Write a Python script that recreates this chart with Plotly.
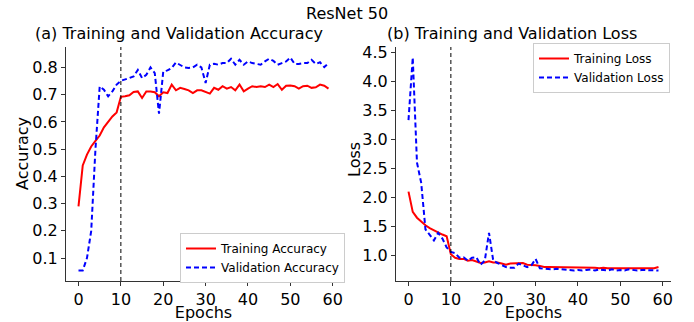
import plotly.graph_objects as go

epochs = list(range(60))
fine_tune_epoch = 10

train_acc = [0.29, 0.44, 0.48, 0.51, 0.53, 0.55, 0.58, 0.60, 0.62, 0.635,
             0.692, 0.694, 0.698, 0.710, 0.712, 0.688, 0.712, 0.712, 0.709, 0.694,
             0.709, 0.706, 0.737, 0.716, 0.725, 0.721, 0.716, 0.706, 0.716, 0.716,
             0.710, 0.704, 0.725, 0.718, 0.731, 0.722, 0.728, 0.716, 0.737, 0.712,
             0.722, 0.731, 0.728, 0.731, 0.728, 0.737, 0.728, 0.739, 0.718, 0.733,
             0.734, 0.731, 0.722, 0.731, 0.733, 0.725, 0.727, 0.737, 0.733, 0.722]
val_acc = [0.055, 0.055, 0.10, 0.20, 0.50, 0.73, 0.718, 0.694, 0.712, 0.737,
           0.751, 0.755, 0.761, 0.767, 0.791, 0.761, 0.773, 0.800, 0.779, 0.630,
           0.785, 0.789, 0.798, 0.818, 0.810, 0.800, 0.798, 0.800, 0.810, 0.800,
           0.743, 0.810, 0.813, 0.810, 0.816, 0.816, 0.832, 0.810, 0.828, 0.810,
           0.822, 0.816, 0.813, 0.810, 0.822, 0.832, 0.824, 0.810, 0.816, 0.822,
           0.836, 0.813, 0.813, 0.816, 0.816, 0.828, 0.813, 0.819, 0.801, 0.816]
train_loss = [2.10, 1.75, 1.65, 1.58, 1.52, 1.47, 1.43, 1.39, 1.36, 1.33,
              1.02, 0.96, 0.94, 0.94, 0.91, 0.92, 0.90, 0.87, 0.88, 0.90,
              0.88, 0.88, 0.86, 0.84, 0.86, 0.86, 0.86, 0.87, 0.84, 0.84,
              0.83, 0.82, 0.80, 0.80, 0.80, 0.79, 0.80, 0.79, 0.80, 0.79,
              0.79, 0.80, 0.80, 0.79, 0.79, 0.78, 0.79, 0.78, 0.78, 0.79,
              0.78, 0.78, 0.79, 0.79, 0.78, 0.79, 0.79, 0.78, 0.78, 0.80]
val_loss = [3.33, 4.41, 2.60, 2.25, 1.45, 1.36, 1.26, 1.39, 1.29, 1.14,
            1.06, 1.04, 0.96, 0.97, 0.91, 0.96, 0.97, 0.84, 0.91, 1.39,
            0.91, 0.87, 0.83, 0.80, 0.79, 0.79, 0.86, 0.83, 0.80, 0.83,
            0.94, 0.78, 0.77, 0.77, 0.76, 0.77, 0.76, 0.75, 0.74, 0.74,
            0.75, 0.74, 0.75, 0.76, 0.74, 0.76, 0.75, 0.74, 0.76, 0.74,
            0.75, 0.74, 0.76, 0.75, 0.74, 0.75, 0.75, 0.74, 0.75, 0.74]

x_ticks = [0, 10, 20, 30, 40, 50, 60]
acc_ticks = [0.1, 0.2, 0.3, 0.4, 0.5, 0.6, 0.7, 0.8]
loss_ticks = [1.0, 1.5, 2.0, 2.5, 3.0, 3.5, 4.0, 4.5]

FONT = "DejaVu Sans"
INK = "black"
RED = "#ff0000"
BLUE = "#0000ff"

W, H = 694, 322


def px(x):
    return x / W


def py(y):
    return 1 - y / H


fig = go.Figure()
fig.add_trace(go.Scatter(x=epochs, y=train_acc, mode="lines", name="Training Accuracy",
                         line=dict(color=RED, width=2), xaxis="x", yaxis="y", legend="legend"))
fig.add_trace(go.Scatter(x=epochs, y=val_acc, mode="lines", name="Validation Accuracy",
                         line=dict(color=BLUE, width=2, dash="5px,3px"), xaxis="x", yaxis="y", legend="legend"))
fig.add_trace(go.Scatter(x=epochs, y=train_loss, mode="lines", name="Training Loss",
                         line=dict(color=RED, width=2), xaxis="x2", yaxis="y2", legend="legend2"))
fig.add_trace(go.Scatter(x=epochs, y=val_loss, mode="lines", name="Validation Loss",
                         line=dict(color=BLUE, width=2, dash="5px,3px"), xaxis="x2", yaxis="y2", legend="legend2"))

for xr in ["x", "x2"]:
    fig.add_shape(type="line", xref=xr, yref=("y domain" if xr == "x" else "y2 domain"),
                  x0=fine_tune_epoch, x1=fine_tune_epoch, y0=0, y1=1,
                  line=dict(color="black", width=1, dash="4px,3px"))

ydom = [py(281), py(47)]
axis_common = dict(showline=True, linecolor="#333", linewidth=1, ticks="outside", ticklen=4,
                   tickcolor="#333", showgrid=False, zeroline=False, automargin=False,
                   tickfont=dict(family=FONT, size=16, color=INK),
                   title_font=dict(family=FONT, size=16, color=INK))

legend_common = dict(bgcolor="white", bordercolor="#cccccc", borderwidth=1, itemwidth=30,
                     font=dict(family=FONT, size=12, color=INK), tracegroupgap=0)

fig.update_layout(
    width=W, height=H, margin=dict(l=0, r=0, t=0, b=0, autoexpand=False),
    paper_bgcolor="white", plot_bgcolor="white",
    font=dict(family=FONT, size=16, color=INK),
    xaxis=dict(domain=[px(66), px(341)], range=[-2.95, 61.95], tickvals=x_ticks,
               title=dict(text="Epochs", standoff=3), anchor="y", **axis_common),
    yaxis=dict(domain=ydom, range=[0.016, 0.875], tickvals=acc_ticks, tickformat=".1f",
               anchor="x", **axis_common),
    xaxis2=dict(domain=[px(396), px(671)], range=[-2.95, 61.95], tickvals=x_ticks,
                title=dict(text="Epochs", standoff=3), anchor="y2", **axis_common),
    yaxis2=dict(domain=ydom, range=[0.56, 4.59], tickvals=loss_ticks, tickformat=".1f",
                anchor="x2", **axis_common),
    legend=dict(x=px(345), xanchor="right", y=py(258), yanchor="middle", **legend_common),
    legend2=dict(x=px(670), xanchor="right", y=py(68), yanchor="middle", **legend_common),
    annotations=[
        dict(text="ResNet 50", x=px(347), y=py(14), xref="paper", yref="paper",
             xanchor="center", yanchor="middle", showarrow=False,
             font=dict(family=FONT, size=16, color=INK)),
        dict(text="(a) Training and Validation Accuracy", x=px(33), y=py(34),
             xref="paper", yref="paper", xanchor="left", yanchor="middle", showarrow=False,
             font=dict(family=FONT, size=16, color=INK)),
        dict(text="(b) Training and Validation Loss", x=px(385), y=py(34),
             xref="paper", yref="paper", xanchor="left", yanchor="middle", showarrow=False,
             font=dict(family=FONT, size=16, color=INK)),
        dict(text="Accuracy", x=px(22), y=py(154), xref="paper", yref="paper",
             xanchor="center", yanchor="middle", textangle=-90, showarrow=False,
             font=dict(family=FONT, size=16, color=INK)),
        dict(text="Loss", x=px(354), y=py(159), xref="paper", yref="paper",
             xanchor="center", yanchor="middle", textangle=-90, showarrow=False,
             font=dict(family=FONT, size=16, color=INK)),
    ],
)

fig.write_html("out.html", config={"displayModeBar": False},
               post_script="document.body.style.margin='0px';document.body.style.overflow='hidden';")
